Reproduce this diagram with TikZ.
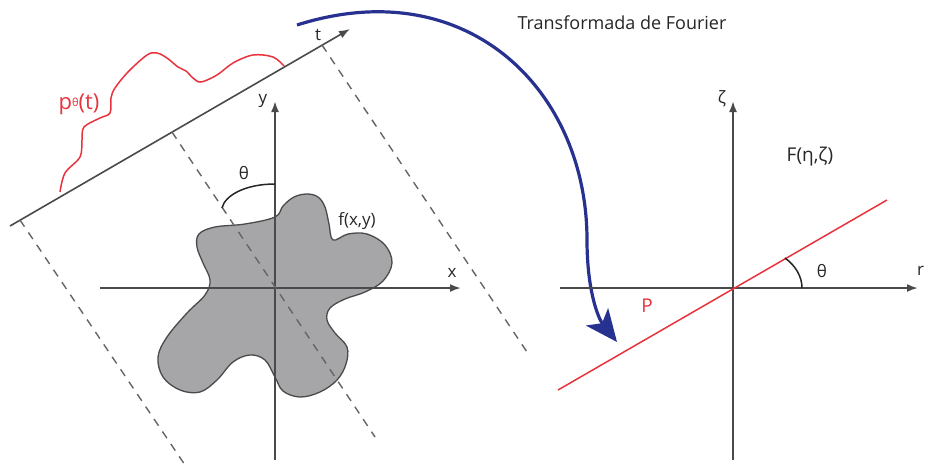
\documentclass[tikz,border=0pt]{standalone}
\usepackage{fontspec}
\setmainfont{Open Sans}
\usetikzlibrary{arrows.meta}

\definecolor{axisgray}{HTML}{4A4A4A}
\definecolor{projred}{HTML}{E8323C}
\definecolor{fourierblue}{HTML}{27318F}
\definecolor{blobgray}{HTML}{A6A6A9}

\begin{document}
\begin{tikzpicture}[
    x=1pt, y=-1pt,
    axis/.style={line width=1.9pt, draw=axisgray, -{Latex[length=11pt,width=8pt]}},
    projline/.style={line width=1.4pt, draw=axisgray!85, dash pattern=on 8pt off 7pt},
    anglearc/.style={line width=1.5pt, draw=black!85},
    lbl/.style={font=\fontsize{17}{19}\selectfont, text=black!85, inner sep=0pt},
    redlbl/.style={lbl, text=projred},
    fourier/.style={line width=3.2pt, draw=fourierblue,
                    -{Stealth[length=32pt,width=28pt,inset=8pt]}},
]
\useasboundingbox (0,0) rectangle (925,472);

%% Left: object plane f(x,y)
\coordinate (xs) at (100,288);
\coordinate (xe) at (461,288);
\coordinate (ys) at (275,460);
\coordinate (ye) at (275,101);

\filldraw[fill=blobgray, draw=axisgray, line width=1.3pt]
    plot[smooth cycle, tension=0.6] coordinates {
    (275,217) (283,206) (294,197) (307,194) (318,197) (325,207) (329,224)
    (333,240) (348,234) (367,234) (385,245) (392,263) (383,281) (365,292)
    (345,299) (330,308) (327,320) (335,333) (347,347) (346,364) (337,380)
    (320,392) (300,397) (283,391) (275,377) (265,360) (250,355) (233,362)
    (217,380) (200,392) (180,390) (163,377) (158,357) (167,337) (187,313)
    (205,295) (210,280) (203,263) (197,247) (199,234) (215,227) (245,224)};

\draw[axis] (xs) -- (xe);
\draw[axis] (ys) -- (ye);
\node[lbl] (xlbl) at (452,273) {x};
\node[lbl] (ylbl) at (263,101) {y};
\node[lbl] (flbl) at (357,221) {f(x,y)};

%% Projection axis t and rays
\coordinate (ts) at (10,226);
\coordinate (te) at (350,29);
\draw[axis, line width=1.6pt] (ts) -- (te);
\node[lbl] (tlbl) at (318,35) {t};

\coordinate (r1a) at (20,220);  \coordinate (r1b) at (187,468);
\coordinate (r2a) at (172,132); \coordinate (r2b) at (375,437);
\coordinate (r3a) at (322,45);  \coordinate (r3b) at (527,352);
\foreach \a/\b in {r1a/r1b, r2a/r2b, r3a/r3b}
    \draw[projline] (\a) -- (\b);

%% Angle between y and ray
\coordinate (th1a) at (275,184);
\coordinate (th1b) at (222,208);
\draw[anglearc] (th1a) .. controls (246,184) and (225,195) .. (th1b);
\node[lbl] (th1lbl) at (244,173) {θ};

%% Projection p_theta(t)
\draw[projred, line width=1.5pt] plot[smooth, tension=0.55] coordinates {
    (60,192) (65,173) (80,157) (82,140) (84,127) (100,118) (110,113)
    (111,98) (115,88) (128,72) (147,55) (157,53) (167,58) (178,67)
    (186,71) (193,78) (201,82) (217,75) (233,63) (253,55) (273,57) (284,66)};
\node[redlbl, font=\fontsize{22}{24}\selectfont] (plbl) at (79,104)
    {p\raisebox{3pt}{\fontsize{11}{11}\selectfont θ}(t)};

%% Fourier transform arrow
\coordinate (fs) at (297,25);
\coordinate (fm) at (587,240);
\coordinate (fe) at (617,342);
\draw[fourier] (fs) .. controls (467,-29) and (587,90) .. (fm)
    .. controls (587,290) and (598,318) .. (fe);
\node[lbl, font=\fontsize{18}{20}\selectfont] (ftlbl) at (622,23) {Transformada de Fourier};

%% Right: frequency plane F(eta,zeta)
\coordinate (rs) at (560,288);
\coordinate (re) at (918,288);
\coordinate (zs) at (733,460);
\coordinate (ze) at (733,101);
\draw[axis] (rs) -- (re);
\draw[axis] (zs) -- (ze);
\node[lbl, anchor=west] (rlbl) at (917,271) {r};
\node[lbl] (zlbl) at (722,99) {ζ};
\node[lbl, font=\fontsize{19}{21}\selectfont] (Flbl) at (810,157) {F(η,ζ)};

\coordinate (ls) at (558,390);
\coordinate (le) at (887,200);
\draw[projred, line width=1.5pt] (ls) -- (le);
\node[redlbl, font=\fontsize{19}{21}\selectfont] (Plbl) at (647,306) {P};

\coordinate (th2a) at (785,258);
\coordinate (th2b) at (802,288);
\draw[anglearc] (th2a) .. controls (796,266) and (802,277) .. (th2b);
\node[lbl] (th2lbl) at (822,271) {θ};

\end{tikzpicture}
\end{document}
